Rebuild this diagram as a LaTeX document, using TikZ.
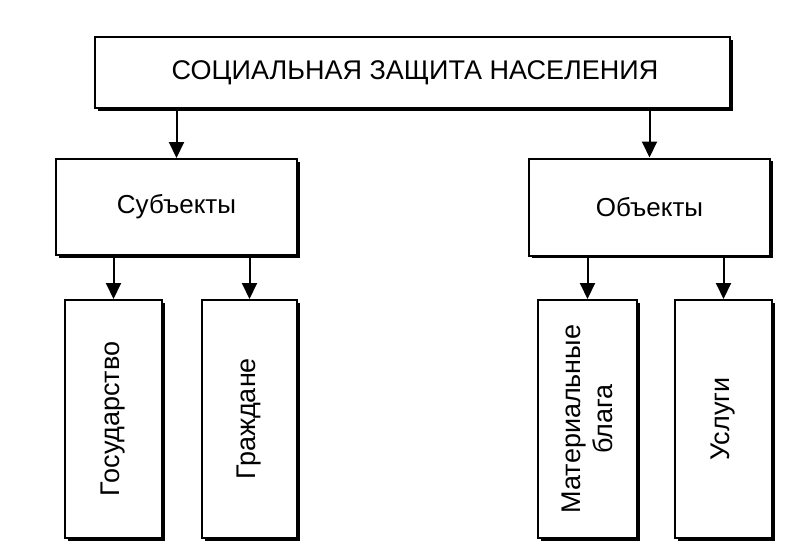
\documentclass[tikz,border=0pt]{standalone}
\usepackage{fontspec}
\setmainfont{Liberation Sans}
\usetikzlibrary{arrows.meta,shadows}
\begin{document}
\begin{tikzpicture}[x=1pt,y=-1pt,
  box/.style={draw=black, line width=2pt, fill=white, rectangle, inner sep=0pt,
    drop shadow={shadow xshift=2.5pt, shadow yshift=-2.5pt, fill=black, opacity=1}},
  lbl/.style={font=\fontsize{27}{32}\selectfont, align=center, inner sep=0pt},
  arr/.style={line width=2pt, -{Triangle[width=15pt,length=16pt]}}]
\fill[white] (0,0) rectangle (797,557);
\useasboundingbox (0,0) rectangle (797,557);
% boxes
\node[box, minimum width=635pt, minimum height=71pt] (top) at (412.5,72.5) {};
\node[lbl, font=\fontsize{27}{32}\selectfont] (toptext) at (415,73) {СОЦИАЛЬНАЯ ЗАЩИТА НАСЕЛЕНИЯ};
\node[box, minimum width=241pt, minimum height=96pt] (subj) at (176.5,207) {};
\node[lbl, font=\fontsize{26}{32}\selectfont] (subjtext) at (subj) {Субъекты};
\node[box, minimum width=241pt, minimum height=97pt] (obj) at (649.5,207) {};
\node[lbl, font=\fontsize{26}{32}\selectfont] (objtext) at (obj) {Объекты};
\node[box, minimum width=97pt, minimum height=238pt] (gos) at (113.5,419) {};
\node[lbl, rotate=90] (gostext) at (gos) {Государство};
\node[box, minimum width=95pt, minimum height=238pt] (grazh) at (249.5,419) {};
\node[lbl, rotate=90] (grazhtext) at (grazh) {Граждане};
\node[box, minimum width=99pt, minimum height=238pt] (mat) at (587.5,419) {};
\node[lbl, rotate=90] (mattext) at (mat) {Материальные\\блага};
\node[box, minimum width=97pt, minimum height=238pt] (usl) at (723.5,419) {};
\node[lbl, rotate=90] (usltext) at (usl) {Услуги};
% connectors
\draw[arr] (top.south -| subj.north) -- (subj.north);
\draw[arr] (top.south -| obj.north) -- (obj.north);
\draw[arr] (subj.south -| gos.north) -- (gos.north);
\draw[arr] (subj.south -| grazh.north) -- (grazh.north);
\draw[arr] (obj.south -| mat.north) -- (mat.north);
\draw[arr] (obj.south -| usl.north) -- (usl.north);
\end{tikzpicture}
\end{document}
